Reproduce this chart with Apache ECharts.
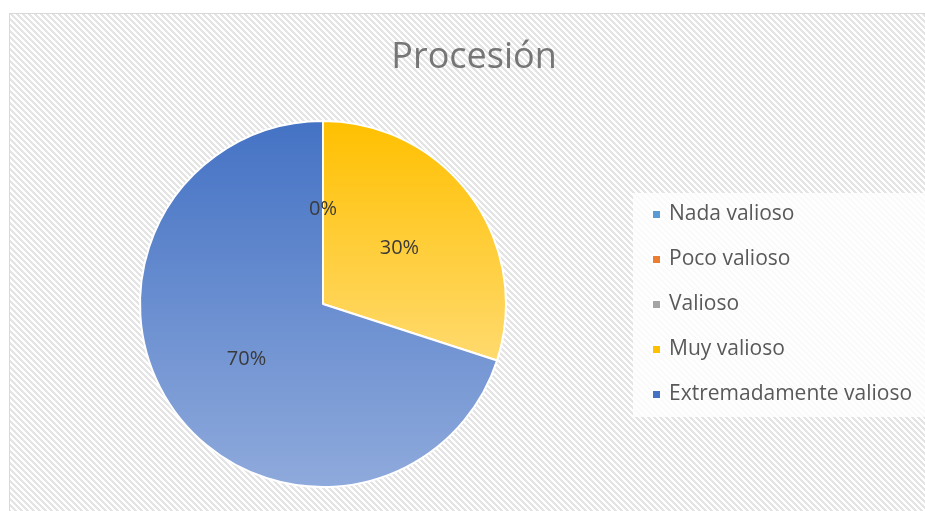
<!DOCTYPE html>
<html>
  <head>
    <meta charset="utf-8" />
    <title>Procesión</title>
    <script src="https://cdn.jsdelivr.net/npm/echarts@6/dist/echarts.min.js"></script>
    <style>
      html, body { margin: 0; padding: 0; background: #fff; overflow: hidden; }
      #main {
        position: absolute; left: 9px; top: 13px;
        width: 916px; height: 498px;
        border-left: 1px solid #d9d9d9; border-top: 1px solid #d9d9d9;
      }
    </style>
  </head>
  <body>
    <div id="main"></div>
    <script type="text/javascript">
      // datos del gráfico
      var titulo = 'Procesión';
      var categorias = ['Nada valioso', 'Poco valioso', 'Valioso', 'Muy valioso', 'Extremadamente valioso'];
      var valores = [0, 0, 0, 30, 70];
      var colores = ['#5B9BD5', '#ED7D31', '#A5A5A5', '#FFC000', '#4472C4'];
      var coloresClaros = ['#9DC3E6', '#F4B183', '#C9C9C9', '#FFDA6E', '#8FAADC'];

      // fondo rayado en diagonal
      var tile = document.createElement('canvas');
      tile.width = 6; tile.height = 6;
      var ctx = tile.getContext('2d');
      ctx.fillStyle = '#ffffff';
      ctx.fillRect(0, 0, 6, 6);
      ctx.fillStyle = '#e4e4e4';
      for (var x = 0; x < 6; x++) {
        for (var y = 0; y < 6; y++) {
          if ((((x - y) % 6) + 6) % 6 < 3) ctx.fillRect(x, y, 1, 1);
        }
      }
      document.getElementById('main').style.backgroundImage = 'url(' + tile.toDataURL() + ')';

      var myChart = echarts.init(document.getElementById('main'));

      var datos = categorias.map(function (c, i) {
        return {
          name: c,
          value: valores[i],
          itemStyle: {
            color: new echarts.graphic.LinearGradient(0, 0, 0, 1, [
              { offset: 0, color: colores[i] },
              { offset: 1, color: coloresClaros[i] }
            ])
          }
        };
      });

      var option = {
        backgroundColor: 'transparent',
        color: colores,
        title: {
          text: titulo,
          left: 459,
          top: 21,
          textAlign: 'center',
          textStyle: {
            fontFamily: 'Open Sans',
            fontSize: 36,
            fontWeight: 'normal',
            color: '#767676'
          }
        },
        legend: {
          orient: 'vertical',
          left: 623,
          top: 179,
          padding: [11, 14, 12, 18],
          backgroundColor: 'rgba(255,255,255,0.8)',
          itemWidth: 9,
          itemHeight: 9,
          itemGap: 24,
          icon: 'rect',
          data: categorias.map(function (c, i) {
            return { name: c, itemStyle: { color: colores[i] } };
          }),
          textStyle: {
            fontFamily: 'Open Sans',
            fontSize: 21,
            color: '#595959',
            padding: [0, 0, 0, 3]
          }
        },
        series: [
          {
            type: 'pie',
            center: [313, 290],
            radius: [0, 183],
            startAngle: 90,
            clockwise: true,
            avoidLabelOverlap: false,
            data: datos,
            itemStyle: { borderColor: '#ffffff', borderWidth: 2 },
            label: {
              show: true,
              position: 'inside',
              fontFamily: 'Open Sans',
              fontSize: 20,
              color: '#3a3a3a',
              formatter: function (p) { return Math.round(p.percent) + '%'; }
            },
            labelLine: { show: false },
            emphasis: { scale: false }
          }
        ]
      };

      myChart.setOption(option);
    </script>
  </body>
</html>
